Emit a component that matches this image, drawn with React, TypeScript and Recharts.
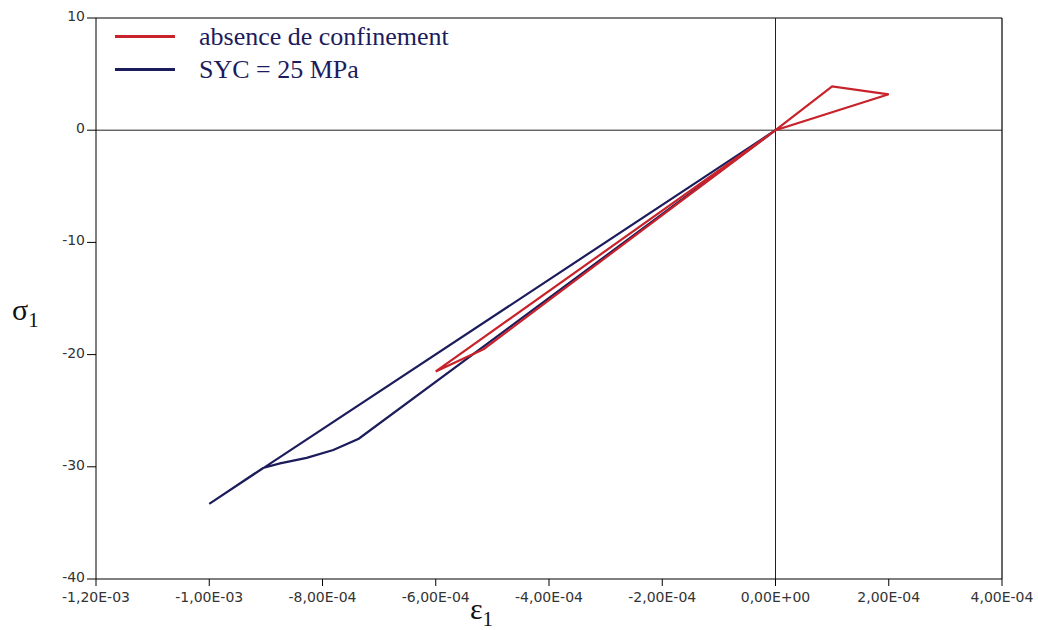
import React from 'react';
import {
  LineChart,
  Line,
  XAxis,
  YAxis,
  ReferenceLine,
  Label,
} from 'recharts';

// strain (epsilon 1) and stress (sigma 1), in path order
const redStrain = [0, 1.0e-4, 2.0e-4, 0, -5.15e-4, -6.0e-4, 0];
const redStress = [0, 3.9, 3.2, 0, -19.5, -21.5, 0];

const blueStrain = [0, -4.95e-4, -7.36e-4, -7.81e-4, -8.28e-4, -8.75e-4, -9.05e-4, -1.0e-3, 0];
const blueStress = [0, -18.5, -27.5, -28.5, -29.2, -29.7, -30.1, -33.3, 0];

const xTicks = [-1.2e-3, -1.0e-3, -8.0e-4, -6.0e-4, -4.0e-4, -2.0e-4, 0, 2.0e-4, 4.0e-4];
const yTicks = [-40, -30, -20, -10, 0, 10];

const seriesNames = ['absence de confinement', 'SYC = 25 MPa'];

const RED = '#c8232b';
const NAVY = '#1c1c5c';

const redData = redStrain.map((x, i) => ({ x, y: redStress[i] }));
const blueData = blueStrain.map((x, i) => ({ x, y: blueStress[i] }));

function sci(v: number) {
  if (v === 0) return '0,00E+00';
  let exp = Math.floor(Math.log10(Math.abs(v)) + 1e-9);
  let mant = v / Math.pow(10, exp);
  if (Math.abs(mant) >= 9.995) {
    exp += 1;
    mant = mant / 10;
  }
  const e = Math.abs(exp).toString().padStart(2, '0');
  return mant.toFixed(2).replace('.', ',') + 'E' + (exp < 0 ? '-' : '+') + e;
}

const tickStyle = { fontFamily: 'DejaVu Sans, sans-serif', fontSize: 14, fill: '#333' };

function LegendBox() {
  const items = [
    { name: seriesNames[0], color: RED },
    { name: seriesNames[1], color: NAVY },
  ];
  return (
    <div
      style={{
        position: 'absolute',
        left: 115,
        top: 20,
        fontFamily: '"Liberation Serif", "Times New Roman", serif',
      }}
    >
      {items.map((it) => (
        <div key={it.name} style={{ display: 'flex', alignItems: 'center', height: 33 }}>
          <span
            style={{
              display: 'inline-block',
              width: 60,
              height: 3,
              background: it.color,
              marginRight: 24,
            }}
          />
          <span style={{ fontSize: 26, color: NAVY, lineHeight: '33px' }}>{it.name}</span>
        </div>
      ))}
    </div>
  );
}

function SubLabel({ main, x, y }: any) {
  return (
    <text
      x={x}
      y={y}
      fontFamily='"Liberation Serif", "Times New Roman", serif'
      fontSize={30}
      fill="#111"
    >
      {main}
      <tspan fontSize={21} dy={7}>
        1
      </tspan>
    </text>
  );
}

export default function App() {
  return (
    <div style={{ position: 'absolute', left: 0, top: 0, width: 1038, height: 630, background: '#fff' }}>
      <LineChart
        width={1038}
        height={630}
        margin={{ top: 18, right: 36, left: 36, bottom: 21 }}
      >
        <XAxis
          dataKey="x"
          type="number"
          domain={[-1.2e-3, 4e-4]}
          ticks={xTicks}
          tickFormatter={sci}
          tick={{ ...tickStyle, dy: 4 }}
          tickSize={7}
          height={30}
          stroke="#000"
          allowDataOverflow
        >
          <Label content={() => <SubLabel main="ε" x={470} y={619} />} />
        </XAxis>
        <YAxis
          dataKey="y"
          type="number"
          domain={[-40, 10]}
          ticks={yTicks}
          tick={{ ...tickStyle, dy: -2 }}
          tickSize={9}
          width={60}
          stroke="#000"
          allowDataOverflow
        >
          <Label content={() => <SubLabel main="σ" x={12} y={320} />} />
        </YAxis>
        <ReferenceLine y={10} stroke="#000" strokeWidth={1.2} />
        <ReferenceLine x={4e-4} stroke="#000" strokeWidth={1.2} />
        <ReferenceLine y={0} stroke="#222" strokeWidth={1} />
        <ReferenceLine x={0} stroke="#222" strokeWidth={1} />
        <Line
          data={blueData}
          dataKey="y"
          stroke={NAVY}
          strokeWidth={2.2}
          dot={false}
          type="linear"
          isAnimationActive={false}
        />
        <Line
          data={redData}
          dataKey="y"
          stroke={RED}
          strokeWidth={2.2}
          dot={false}
          type="linear"
          isAnimationActive={false}
        />
      </LineChart>
      <LegendBox />
    </div>
  );
}
